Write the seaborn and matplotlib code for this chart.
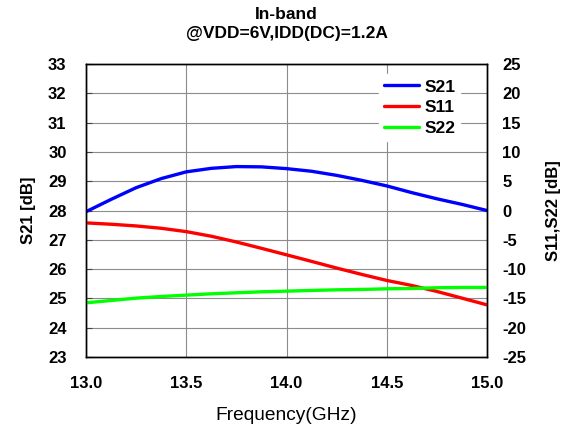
import matplotlib
matplotlib.use("Agg")
import matplotlib.pyplot as plt
import seaborn as sns
import pandas as pd
from matplotlib.lines import Line2D

freq = [13.0, 13.125, 13.25, 13.375, 13.5, 13.625, 13.75, 13.875, 14.0,
        14.125, 14.25, 14.375, 14.5, 14.625, 14.75, 14.875, 15.0]
s21 = [27.96, 28.38, 28.78, 29.09, 29.32, 29.44, 29.50, 29.49, 29.43,
       29.34, 29.20, 29.03, 28.84, 28.61, 28.40, 28.21, 28.00]
s11 = [-2.11, -2.34, -2.63, -3.03, -3.60, -4.39, -5.37, -6.45, -7.56,
       -8.68, -9.82, -10.90, -11.93, -12.79, -13.81, -14.95, -16.10]
s22 = [-15.75, -15.35, -14.95, -14.67, -14.44, -14.21, -14.04, -13.87, -13.76,
       -13.64, -13.53, -13.47, -13.36, -13.30, -13.18, -13.13, -13.13]

xticks = [13.0, 13.5, 14.0, 14.5, 15.0]
left_ticks = list(range(23, 34))
right_ticks = list(range(-25, 30, 5))
labels = ["S21", "S11", "S22"]
colors = ["#0000ff", "#ff0000", "#00ff00"]

sns.set_style("white")
plt.rcParams['font.family'] = ['Liberation Sans', 'DejaVu Sans']
plt.rcParams['text.color'] = 'black'
plt.rcParams['axes.labelcolor'] = 'black'
plt.rcParams['xtick.color'] = 'black'
plt.rcParams['ytick.color'] = 'black'

fig = plt.figure(figsize=(5.75, 4.37), dpi=100)
ax = fig.add_axes([0.1496, 0.183, 0.6974, 0.6705])
ax2 = ax.twinx()

df21 = pd.DataFrame({"f": freq, "v": s21})
df11 = pd.DataFrame({"f": freq, "v": s11})
df22 = pd.DataFrame({"f": freq, "v": s22})

sns.lineplot(data=df21, x="f", y="v", ax=ax, color=colors[0], lw=2.4)
sns.lineplot(data=df11, x="f", y="v", ax=ax2, color=colors[1], lw=2.4)
sns.lineplot(data=df22, x="f", y="v", ax=ax2, color=colors[2], lw=2.4)

ax.set_xlim(13.0, 15.0)
ax.set_ylim(23, 33)
ax2.set_ylim(-25, 25)
ax.set_xticks(xticks)
ax.set_xticklabels([f"{t:.1f}" for t in xticks], fontweight='bold', fontsize=12)
ax.set_yticks(left_ticks)
ax.set_yticklabels([str(t) for t in left_ticks], fontweight='bold', fontsize=12)
ax2.set_yticks(right_ticks)
ax2.set_yticklabels([str(t) for t in right_ticks], fontweight='bold', fontsize=12)

ax.grid(True, color="#8c8c8c", lw=0.8)
ax.tick_params(axis='y', direction='in', length=4, width=0.8, color="#444444", pad=14)
ax.tick_params(axis='x', direction='in', length=4, width=0.8, color="#444444", pad=14)
ax2.tick_params(axis='y', direction='in', length=0, width=0.8, pad=11)

for a in (ax, ax2):
    for sp in a.spines.values():
        sp.set_color('black'); sp.set_linewidth(1.0)

ax.set_xlabel("Frequency(GHz)", fontsize=13.8, labelpad=11)
ax.set_ylabel("S21 [dB]", fontsize=12, fontweight='bold', labelpad=9)
ax2.set_ylabel("S11,S22 [dB]", fontsize=12, fontweight='bold', labelpad=14)

ax.set_title("In-band\n@VDD=6V,IDD(DC)=1.2A", fontsize=12.5, fontweight='bold', pad=19,
             linespacing=1.3)

handles = [Line2D([], [], color=c, lw=2.4) for c in colors]
leg = ax2.legend(handles, labels, loc='upper right',
                 bbox_to_anchor=(0.955, 0.995), frameon=True, framealpha=1,
                 edgecolor='white', fancybox=False, handlelength=2.0,
                 labelspacing=0.33, borderpad=0.3, handletextpad=0.3,
                 prop={'weight': 'bold', 'size': 12.5, 'family': 'Liberation Sans'})
ax2.set_zorder(ax.get_zorder() + 1)
ax2.patch.set_visible(False)

fig.savefig("out.png", dpi=100)
